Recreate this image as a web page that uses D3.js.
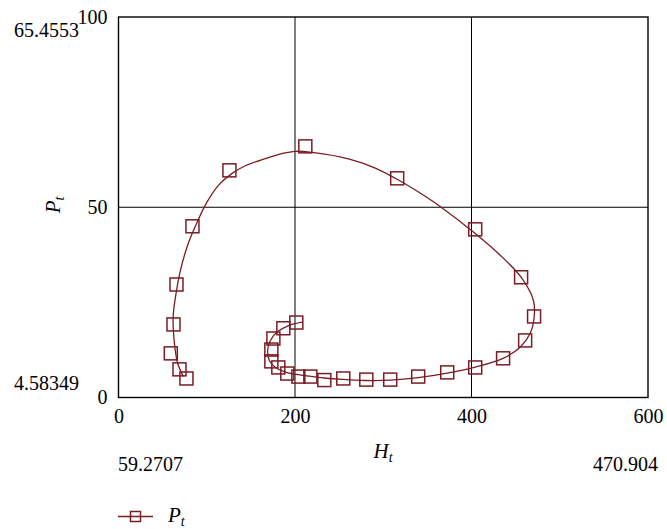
<!DOCTYPE html>
<html>
<head>
<meta charset="utf-8">
<script src="https://cdn.jsdelivr.net/npm/d3@7"></script>
<style>
  html, body { margin: 0; padding: 0; background: #fff; }
  svg text { font-family: 'Liberation Serif', serif !important; fill: #000; }
</style>
</head>
<body>
<svg id="chart" width="667" height="529" font-family="Liberation Serif, serif"></svg>
<script>
// ---- data ----
const xTicks = [0, 200, 400, 600];
const yTicks = [0, 50, 100];
const xGrid = [200, 400];
const yGrid = [50];

// sampled markers (H_t, P_t)
const markerH = [77.0, 69.1, 59.27, 62.3, 65.7, 83.8, 125.7, 211.7, 315.8, 404.2,
                 456.2, 470.904, 460.8, 435.8, 404.2, 372.5, 339.6, 307.9, 280.8, 254.7,
                 233.2, 217.4, 203.8, 191.3, 181.1, 173.2, 173.2, 175.5, 186.8, 201.5];
const markerP = [5.0, 7.4, 11.6, 19.2, 29.7, 45.0, 59.7, 66.0, 57.6, 44.2,
                 31.6, 21.3, 15.0, 10.3, 7.9, 6.6, 5.5, 4.7, 4.7, 5.0,
                 4.58349, 5.5, 5.5, 6.3, 7.9, 9.5, 12.6, 15.5, 18.2, 19.7];

// continuous trajectory
const curveH = [73.6, 67.1, 63.4, 61.9, 64.5, 70.2, 78.9, 90.9, 100.4, 113.5,
                128.7, 143.8, 166.4, 185.3, 200.4, 219.3, 262.6, 291.0, 319.2, 347.5, 364.5, 404.2,
                432.5, 456.6, 470.2, 471.0, 466.4, 455.1, 435.8, 404.2, 372.5, 339.6,
                307.9, 280.0, 254.4, 232.9, 216.2, 202.3, 189.1, 177.7, 170.9, 169.0,
                172.1, 179.7, 192.8, 208.0];
const curveP = [5.53, 8.95, 14.2, 21.1, 26.3, 33.4, 40.4, 47.0, 51.4, 55.8,
                58.9, 60.9, 62.8, 64.1, 64.7, 64.4, 62.6, 60.3, 56.9, 52.9, 50.2, 43.1,
                37.4, 31.5, 25.5, 21.1, 16.8, 13.2, 10.3, 8.0, 6.4, 5.2,
                4.55, 4.47, 4.74, 5.13, 5.6, 6.05, 6.66, 7.97, 9.74, 12.4,
                15.0, 17.2, 18.9, 19.8];

const annot = { maxP: "65.4553", minP: "4.58349", minH: "59.2707", maxH: "470.904" };

// ---- drawing ----
const FONT = "'Liberation Serif', serif";
const color = "#7a1c24";
const svg = d3.select("#chart");
const L = 118.5, R = 648, T = 17, B = 397.5;
const x = d3.scaleLinear().domain([0, 600]).range([L, R]);
const y = d3.scaleLinear().domain([0, 100]).range([B, T]);

// grid
svg.append("g").selectAll("line").data(xGrid).join("line")
  .attr("x1", d => x(d)).attr("x2", d => x(d)).attr("y1", T).attr("y2", B)
  .attr("stroke", "#000").attr("stroke-width", 1);
svg.append("g").selectAll("line").data(yGrid).join("line")
  .attr("x1", L).attr("x2", R).attr("y1", d => y(d)).attr("y2", d => y(d))
  .attr("stroke", "#000").attr("stroke-width", 1);

// frame
svg.append("rect").attr("x", L).attr("y", T).attr("width", R - L).attr("height", B - T)
  .attr("fill", "none").attr("stroke", "#000").attr("stroke-width", 1.4);

// axes
const fs = "20px";
const gx = svg.append("g").attr("transform", `translate(0,${B})`)
  .call(d3.axisBottom(x).tickValues(xTicks).tickSize(0).tickPadding(11).tickFormat(d3.format("d")));
gx.attr("font-family", null).attr("font-size", null);
gx.select(".domain").remove();
gx.selectAll("text").style("font-family", FONT).style("font-size", fs);
const gy = svg.append("g").attr("transform", `translate(${L},0)`)
  .call(d3.axisLeft(y).tickValues(yTicks).tickSize(0).tickPadding(11).tickFormat(d3.format("d")));
gy.attr("font-family", null).attr("font-size", null);
gy.select(".domain").remove();
gy.selectAll("text").style("font-family", FONT).style("font-size", fs);

// curve
const pts = curveH.map((h, i) => [h, curveP[i]]);
svg.append("path").datum(pts)
  .attr("d", d3.line().x(d => x(d[0])).y(d => y(d[1])).curve(d3.curveCatmullRom.alpha(0.5)))
  .attr("fill", "none").attr("stroke", color).attr("stroke-width", 1.3);

// markers
const ms = 13;
const mk = markerH.map((h, i) => [h, markerP[i]]);
svg.append("g").selectAll("rect").data(mk).join("rect")
  .attr("x", d => x(d[0]) - ms / 2).attr("y", d => y(d[1]) - ms / 2)
  .attr("width", ms).attr("height", ms)
  .attr("fill", "none").attr("stroke", color).attr("stroke-width", 1.5);

function label(sel, main, sub) {
  sel.append("tspan").style("font-style", "italic").text(main);
  sel.append("tspan").style("font-style", "italic").style("font-size", "14px").attr("dy", 4).text(sub);
}

// axis titles
const xt = svg.append("text").attr("x", 383).attr("y", 458).attr("text-anchor", "middle")
  .style("font-family", FONT).style("font-size", "21px");
label(xt, "H", "t");

const yt = svg.append("text").attr("transform", "translate(60,205) rotate(-90)")
  .attr("text-anchor", "middle").style("font-family", FONT).style("font-size", "21px");
label(yt, "P", "t");

// extreme-value annotations
function ann(xp, yp, anchor, t) {
  svg.append("text").attr("x", xp).attr("y", yp).attr("text-anchor", anchor)
    .style("font-family", FONT).style("font-size", fs).text(t);
}
ann(79, 37, "end", annot.maxP);
ann(79, 390, "end", annot.minP);
ann(118, 471, "start", annot.minH);
ann(658, 471, "end", annot.maxH);

// legend
const lg = svg.append("g");
lg.append("line").attr("x1", 118).attr("x2", 153).attr("y1", 516.5).attr("y2", 516.5)
  .attr("stroke", color).attr("stroke-width", 1.3);
lg.append("rect").attr("x", 130.5).attr("y", 511.5).attr("width", 10).attr("height", 10)
  .attr("fill", "none").attr("stroke", color).attr("stroke-width", 1.5);
const lt = lg.append("text").attr("x", 168).attr("y", 522)
  .style("font-family", FONT).style("font-size", "21px");
label(lt, "P", "t");
</script>
</body>
</html>
